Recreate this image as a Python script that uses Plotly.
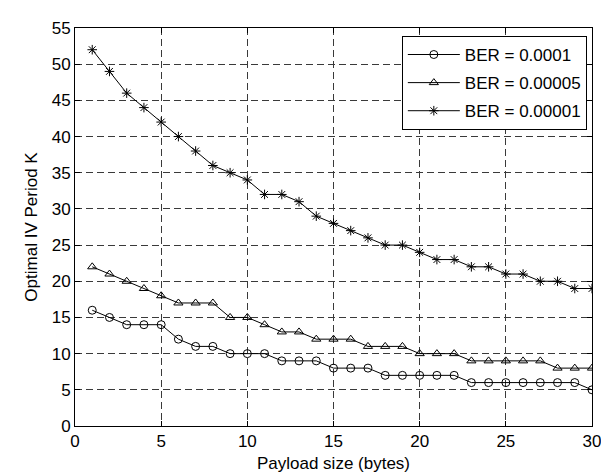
import plotly.graph_objects as go

payload = list(range(1, 31))
ber_0001 = [16, 15, 14, 14, 14, 12, 11, 11, 10, 10, 10, 9, 9, 9, 8, 8, 8, 7, 7, 7, 7, 7, 6, 6, 6, 6, 6, 6, 6, 5]
ber_00005 = [22, 21, 20, 19, 18, 17, 17, 17, 15, 15, 14, 13, 13, 12, 12, 12, 11, 11, 11, 10, 10, 10, 9, 9, 9, 9, 9, 8, 8, 8]
ber_00001 = [52, 49, 46, 44, 42, 40, 38, 36, 35, 34, 32, 32, 31, 29, 28, 27, 26, 25, 25, 24, 23, 23, 22, 22, 21, 21, 20, 20, 19, 19]
names = ["BER = 0.0001", "BER = 0.00005", "BER = 0.00001"]
symbols = ["circle-open", "triangle-up-open", "asterisk-open"]
sizes = [8, 8, 8]
x_ticks = [0, 5, 10, 15, 20, 25, 30]
y_ticks = [0, 5, 10, 15, 20, 25, 30, 35, 40, 45, 50, 55]

fig = go.Figure()
for i, (ys, nm, sym, sz) in enumerate(zip([ber_0001, ber_00005, ber_00001], names, symbols, sizes)):
    fig.add_trace(go.Scatter(
        x=payload, y=ys, name=nm, mode="lines+markers", legendgroup="g%d" % i,
        line=dict(color="black", width=1),
        marker=dict(symbol=sym, size=sz, color="black", line=dict(color="black", width=1)),
    ))

font = "Arial, Liberation Sans, sans-serif"
fs = 17
axis_common = dict(
    showline=True, linecolor="black", linewidth=1, mirror="ticks",
    ticks="inside", ticklen=5, tickcolor="black",
    showgrid=True, gridcolor="#3a3a3a", gridwidth=1, griddash="7px,4px",
    zeroline=False, tickfont=dict(family=font, size=fs, color="black"),
)
fig.update_xaxes(range=[0, 30], tickvals=x_ticks, title=dict(text="Payload size (bytes)", font=dict(family=font, size=fs, color="black"), standoff=6), **axis_common)
fig.update_yaxes(range=[0, 55], tickvals=y_ticks, title=dict(text="Optimal IV Period K", font=dict(family=font, size=fs, color="black"), standoff=9), **axis_common)

fig.update_layout(
    width=609, height=473,
    margin=dict(l=67, r=25, t=11, b=55),
    paper_bgcolor="white", plot_bgcolor="white",
    font=dict(family=font, size=fs, color="black"),
    legend=dict(x=0.99, xanchor="right", y=0.98, yanchor="top",
                bordercolor="black", borderwidth=1, bgcolor="white",
                font=dict(family=font, size=fs, color="black"),
                itemwidth=52, tracegroupgap=3),
    showlegend=True,
)
fig.write_html("out.html")
